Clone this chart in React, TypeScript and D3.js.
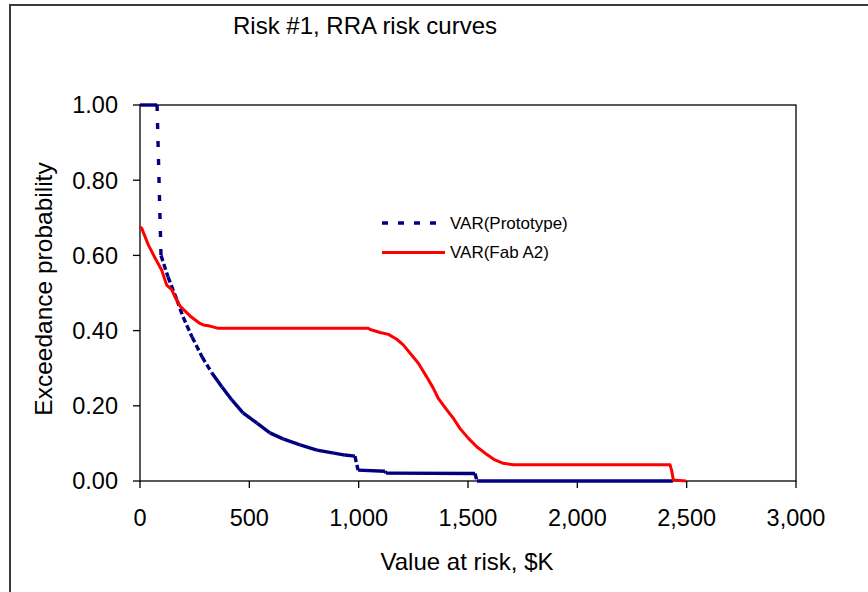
import React from 'react';
import * as d3 from 'd3';

const title = 'Risk #1, RRA risk curves';
const xLabel = 'Value at risk, $K';
const yLabel = 'Exceedance probability';
const xTicks = [0, 500, 1000, 1500, 2000, 2500, 3000];
const yTicks = [0, 0.2, 0.4, 0.6, 0.8, 1.0];

const seriesNames = ['VAR(Prototype)', 'VAR(Fab A2)'];

// VAR(Prototype)
const protoX = [0, 78, 96, 128, 169, 197, 238, 284, 329, 375, 421, 471, 535, 594, 654, 732, 809, 887, 937, 983, 997, 1120, 1125, 1532, 1541, 2437];
const protoY = [1.0, 1.0, 0.6, 0.543, 0.481, 0.436, 0.383, 0.33, 0.287, 0.25, 0.215, 0.181, 0.154, 0.128, 0.112, 0.096, 0.082, 0.074, 0.069, 0.066, 0.029, 0.026, 0.021, 0.02, 0.0, 0.0];

// VAR(Fab A2)
const fabX = [0, 8, 38, 69, 99, 122, 145, 160, 183, 229, 274, 290, 320, 358, 1044, 1053, 1098, 1136, 1174, 1204, 1242, 1273, 1311, 1341, 1364, 1403, 1433, 1463, 1501, 1540, 1578, 1623, 1661, 1707, 2424, 2431, 2439, 2497];
const fabY = [0.676, 0.672, 0.628, 0.593, 0.561, 0.521, 0.509, 0.49, 0.465, 0.439, 0.419, 0.415, 0.412, 0.406, 0.406, 0.403, 0.395, 0.39, 0.377, 0.362, 0.335, 0.313, 0.277, 0.247, 0.22, 0.189, 0.167, 0.14, 0.114, 0.091, 0.074, 0.056, 0.047, 0.043, 0.043, 0.029, 0.003, 0.0];

const NAVY = '#000080';
const RED = '#ff0000';
const FONT = 'Arial, "Liberation Sans", sans-serif';

const App: React.FC = () => {
  const width = 868;
  const height = 592;
  const plot = { left: 140, right: 796, top: 105, bottom: 481 };

  const x = d3.scaleLinear().domain([0, 3000]).range([plot.left, plot.right]);
  const y = d3.scaleLinear().domain([0, 1]).range([plot.bottom, plot.top]);

  const fmtX = d3.format(',');
  const fmtY = d3.format('.2f');

  const fabPts: [number, number][] = fabX.map((v, i) => [x(v), y(fabY[i])]);
  const fabPath = d3.line()(fabPts) || '';

  // Excel restarts the dash pattern on every segment, so draw them one by one
  const protoSegs = protoX.slice(1).map((v, i) => {
    const x0 = x(protoX[i]);
    const y0 = y(protoY[i]);
    const x1 = x(v);
    const y1 = y(protoY[i + 1]);
    const dx = Math.abs(x1 - x0);
    const dy = Math.abs(y1 - y0);
    let dash = 'none';
    if (dy > 1.5 * dx) dash = dx < 6 && dy > 40 ? '6,12' : '6,3';
    return { x0, y0, x1, y1, dash };
  });

  return (
    <svg width={width} height={height} style={{ position: 'absolute', left: 0, top: 0, background: '#fff' }}>
      <rect x={10} y={5} width={900} height={700} fill="#fff" stroke="#3a3a3a" strokeWidth={2} />

      <text x={233} y={34} fontFamily={FONT} fontSize={24} fill="#000">
        {title}
      </text>

      {/* plot frame */}
      <rect
        x={plot.left}
        y={plot.top}
        width={plot.right - plot.left}
        height={plot.bottom - plot.top}
        fill="#fff"
        stroke="#000"
        strokeWidth={1.3}
      />

      {/* y axis */}
      {yTicks.map((t) => (
        <g key={t}>
          <line x1={plot.left - 7} x2={plot.left} y1={y(t)} y2={y(t)} stroke="#000" strokeWidth={1.3} />
          <text
            x={118}
            y={y(t)}
            dy="0.36em"
            textAnchor="end"
            fontFamily={FONT}
            fontSize={23.5}
            fill="#000"
          >
            {fmtY(t)}
          </text>
        </g>
      ))}

      {/* x axis */}
      {xTicks.map((t) => (
        <g key={t}>
          <line x1={x(t)} x2={x(t)} y1={plot.bottom} y2={plot.bottom + 7} stroke="#000" strokeWidth={1.3} />
          <text x={x(t)} y={526} textAnchor="middle" fontFamily={FONT} fontSize={23.5} fill="#000">
            {fmtX(t)}
          </text>
        </g>
      ))}

      <text x={467} y={570} textAnchor="middle" fontFamily={FONT} fontSize={24} fill="#000">
        {xLabel}
      </text>
      <text
        transform={`translate(52,289) rotate(-90)`}
        textAnchor="middle"
        fontFamily={FONT}
        fontSize={24.5}
        fill="#000"
      >
        {yLabel}
      </text>

      {/* series */}
      <g>
        {protoSegs.map((s, i) => (
          <line
            key={i}
            x1={s.x0}
            y1={s.y0}
            x2={s.x1}
            y2={s.y1}
            stroke={NAVY}
            strokeWidth={3.4}
            strokeDasharray={s.dash}
            strokeLinecap="butt"
          />
        ))}
      </g>
      <path d={fabPath} fill="none" stroke={RED} strokeWidth={3} strokeLinejoin="round" />

      {/* legend */}
      <line x1={382} x2={445} y1={223} y2={223} stroke={NAVY} strokeWidth={3.4} strokeDasharray="6,10" />
      <text x={450} y={228.5} fontFamily={FONT} fontSize={17} fill="#000">
        {seriesNames[0]}
      </text>
      <line x1={382} x2={445} y1={252.5} y2={252.5} stroke={RED} strokeWidth={3} />
      <text x={450} y={258} fontFamily={FONT} fontSize={17} fill="#000">
        {seriesNames[1]}
      </text>
    </svg>
  );
};

export default App;
